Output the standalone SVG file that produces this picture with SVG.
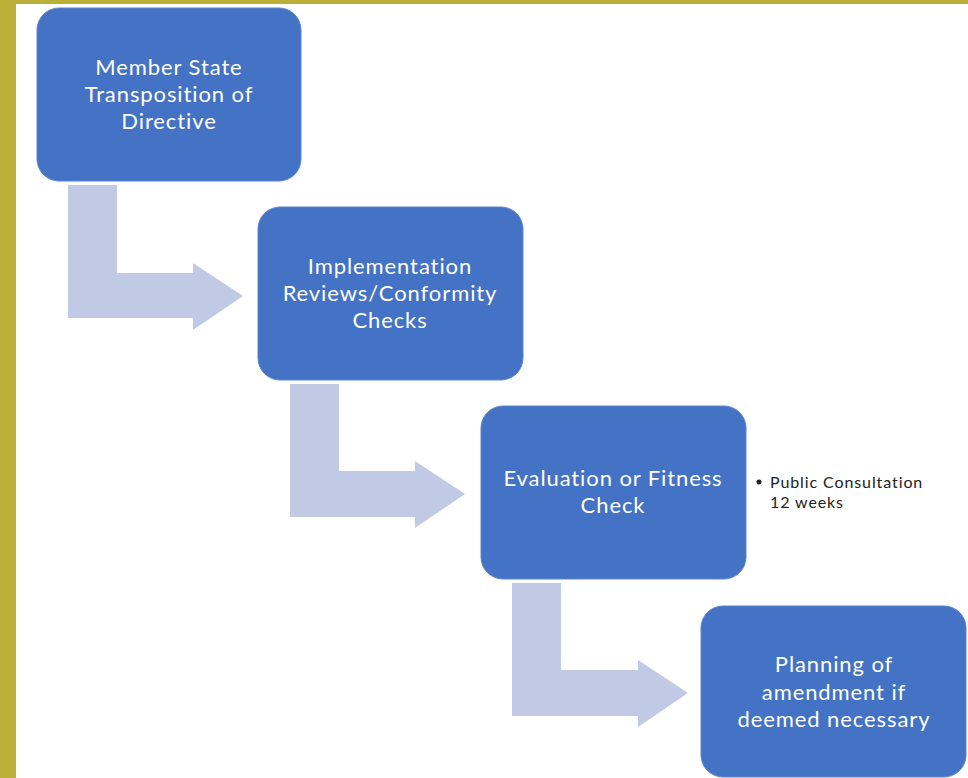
<svg xmlns="http://www.w3.org/2000/svg" width="968" height="778" viewBox="0 0 968 778">
<style>
.box{fill:#4472C4;stroke:#5B84CC;stroke-width:1}
.lbl{font-family:Lato,"Open Sans","Liberation Sans",sans-serif;font-size:22px;letter-spacing:0.9px;fill:#FFFFFF;text-anchor:middle}
.arr{fill:#C0CAE4}
.note{font-family:Lato,"Open Sans","Liberation Sans",sans-serif;font-size:16px;letter-spacing:0.9px;fill:#222222}
</style>
<rect x="0" y="0" width="968" height="778" fill="#FFFFFF"/>
<rect x="0" y="0" width="968" height="4" fill="#BCAF37"/>
<rect x="0" y="0" width="16" height="778" fill="#BCAF37"/>
<g id="connectors">
<path class="arr" d="M68,185 H117 V273 H193 V263 L243,296 L193,330 V318 H68 Z"/>
<path class="arr" d="M290,384 H339 V471 H415 V461 L465,494 L415,528 V517 H290 Z"/>
<path class="arr" d="M512,583 H561 V670 H638 V660 L688,693 L638,727 V716 H512 Z"/>
</g>
<g id="node1">
<rect class="box" x="37" y="8" width="264" height="173" rx="22"/>
<text class="lbl"><tspan x="169" y="75">Member State</tspan><tspan x="169" y="102">Transposition of</tspan><tspan x="169" y="129">Directive</tspan></text>
</g>
<g id="node2">
<rect class="box" x="258" y="207" width="265" height="173" rx="22"/>
<text class="lbl"><tspan x="390" y="274">Implementation</tspan><tspan x="390" y="301">Reviews/Conformity</tspan><tspan x="390" y="328">Checks</tspan></text>
</g>
<g id="node3">
<rect class="box" x="481" y="406" width="265" height="173" rx="22"/>
<text class="lbl"><tspan x="613" y="486">Evaluation or Fitness</tspan><tspan x="613" y="513">Check</tspan></text>
</g>
<g id="note3">
<circle cx="759" cy="482" r="2.5" fill="#222222"/>
<text class="note"><tspan x="770" y="488">Public Consultation</tspan><tspan x="770" y="508">12 weeks</tspan></text>
</g>
<g id="node4">
<rect class="box" x="701" y="606" width="265" height="171" rx="22"/>
<text class="lbl"><tspan x="834" y="672">Planning of</tspan><tspan x="834" y="700">amendment if</tspan><tspan x="834" y="727">deemed necessary</tspan></text>
</g>
</svg>
